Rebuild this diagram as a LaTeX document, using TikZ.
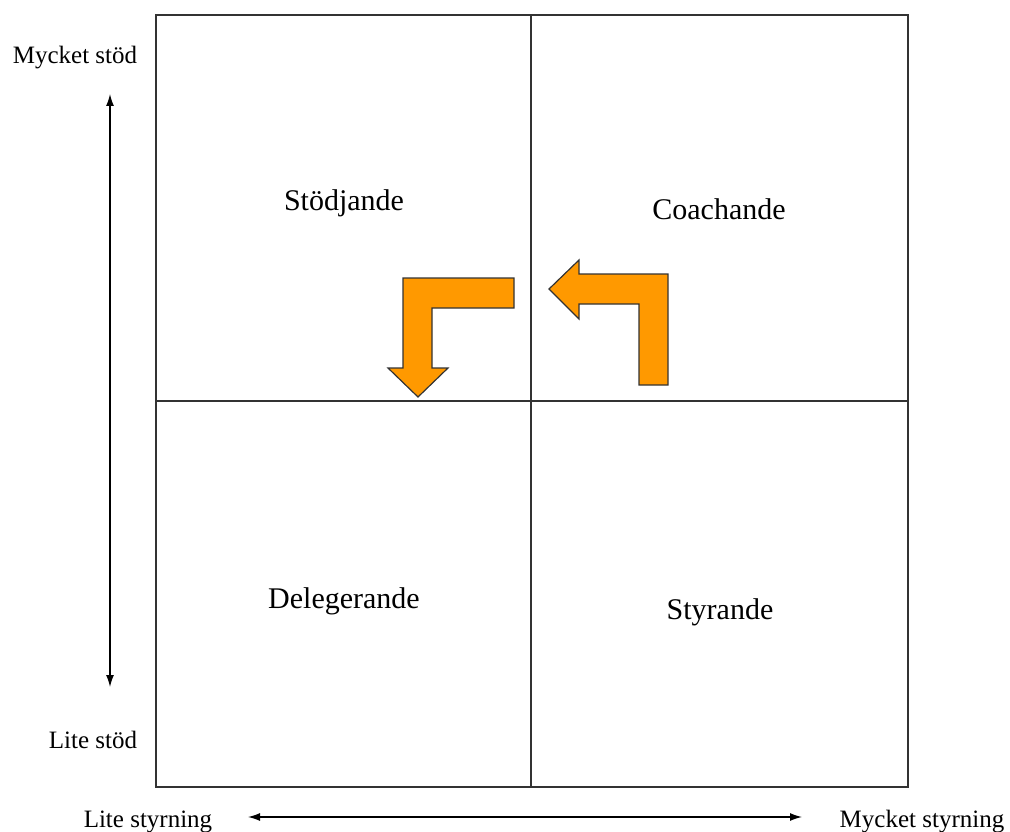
\documentclass[tikz,border=0pt]{standalone}
\usepackage{fontspec}
\setmainfont{Liberation Serif}
\usetikzlibrary{arrows.meta}
\definecolor{arroworange}{HTML}{FF9900}
\definecolor{boxline}{HTML}{333333}
\begin{document}
\begin{tikzpicture}[x=1pt,y=-1pt,
  quad/.style={font=\fontsize{30}{36}\selectfont, inner sep=0pt},
  axlabel/.style={font=\fontsize{25}{30}\selectfont, inner sep=0pt},
  axis/.style={line width=1.3pt, {Latex[length=12pt,width=8pt]}-{Latex[length=12pt,width=8pt]}},
  turn/.style={fill=arroworange, draw=black!80, line width=1.2pt, line join=miter}]
\useasboundingbox (0,0) rectangle (1010,832);
% grid
\draw[boxline, line width=1.8pt] (156,15) rectangle (908,787);
\draw[boxline, line width=1.8pt] (531,15) -- (531,787);
\draw[boxline, line width=1.8pt] (156,401) -- (908,401);
% quadrant labels
\node[quad] (stod) at (344,203) {Stödjande};
\node[quad] (coach) at (719,209) {Coachande};
\node[quad] (deleg) at (344,601) {Delegerande};
\node[quad] (styr) at (720,612) {Styrande};
% axis labels
\node[axlabel] (mstod) at (75,58) {Mycket stöd};
\node[axlabel] (lstod) at (93,740) {Lite stöd};
\node[axlabel] (lstyr) at (148,822) {Lite styrning};
\node[axlabel] (mstyr) at (922,822) {Mycket styrning};
% axis arrows
\coordinate (vtop) at (110,94);
\coordinate (vbot) at (110,687);
\coordinate (hleft) at (248,817);
\coordinate (hright) at (802,817);
\draw[axis] (vtop) -- (vbot);
\draw[axis] (hleft) -- (hright);
% turn arrows
\draw[turn] (403,278) -- (514,278) -- (514,308) -- (432,308) -- (432,368) -- (448,368) -- (418,397) -- (388,368) -- (403,368) -- cycle;
\draw[turn] (549,289) -- (579,260) -- (579,274) -- (668,274) -- (668,385) -- (639,385) -- (639,304) -- (579,304) -- (579,319) -- cycle;
\end{tikzpicture}
\end{document}
